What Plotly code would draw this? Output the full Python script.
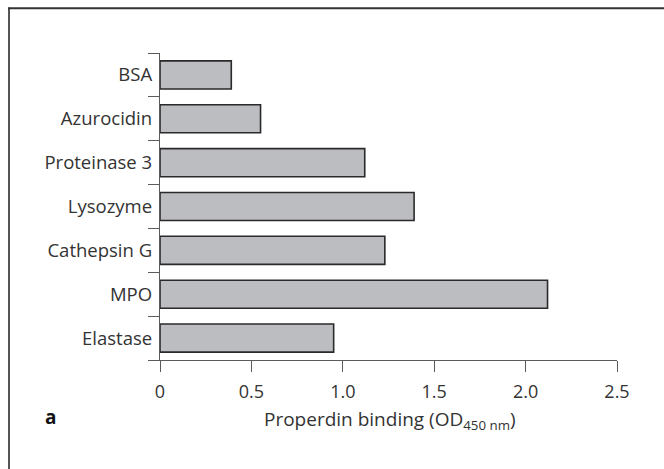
import plotly.graph_objects as go

# Data (bottom to top as drawn)
categories = ["Elastase", "MPO", "Cathepsin G", "Lysozyme", "Proteinase 3", "Azurocidin", "BSA"]
values = [0.95, 2.12, 1.23, 1.39, 1.12, 0.55, 0.39]
x_ticks = [0, 0.5, 1.0, 1.5, 2.0, 2.5]
x_tick_labels = ["0", "0.5", "1.0", "1.5", "2.0", "2.5"]

FONT = "Open Sans, Segoe UI, sans-serif"
TXT = "#333333"
AX = "#5a5a5a"

fig = go.Figure()
fig.add_trace(go.Bar(
    x=values, y=categories, orientation="h", width=0.64,
    marker=dict(color="#bcbdc1", line=dict(color="#2a2a2a", width=1.6)),
    hoverinfo="skip",
))

W, H = 664, 469
L, R, T, B = 160, 47, 53.3, 109
pw, ph = W - L - R, H - T - B

def px(x):
    return (x - L) / pw

def py(y):
    return (H - B - y) / ph

fig.update_layout(
    width=W, height=H,
    margin=dict(l=L, r=R, t=T, b=B, pad=0),
    paper_bgcolor="white", plot_bgcolor="white",
    showlegend=False,
    font=dict(family=FONT, size=18, color=TXT),
    xaxis=dict(
        range=[0, 2.5], tickvals=x_ticks, ticktext=x_tick_labels,
        showgrid=False, zeroline=False, showline=True, linecolor=AX, linewidth=1.3,
        ticks="outside", ticklen=11, tickwidth=1.3, tickcolor=AX,
        tickfont=dict(family=FONT, size=18, color=TXT),
        ticklabelstandoff=4,
        fixedrange=True,
    ),
    yaxis=dict(
        type="category", categoryorder="array", categoryarray=categories,
        range=[-0.5, 6.5],
        showgrid=False, zeroline=False, showline=True, linecolor=AX, linewidth=1.3,
        ticks="outside", tickson="boundaries", ticklen=11, tickwidth=1.3, tickcolor=AX,
        tickfont=dict(family=FONT, size=18.5, color=TXT),
        ticklabelstandoff=3,
        fixedrange=True,
    ),
    shapes=[
        dict(type="line", xref="paper", yref="paper", x0=px(9), x1=px(9), y0=py(8), y1=py(H + 5),
             line=dict(color="#555555", width=2)),
        dict(type="line", xref="paper", yref="paper", x0=px(8), x1=px(W + 5), y0=py(8.5), y1=py(8.5),
             line=dict(color="#333333", width=2)),
    ],
    annotations=[
        dict(text="Properdin binding (OD<sub>450 nm</sub>)", xref="paper", yref="paper",
             x=px(390), y=py(420), xanchor="center", yanchor="middle", showarrow=False,
             font=dict(family=FONT, size=19, color=TXT)),
        dict(text="<b>a</b>", xref="paper", yref="paper",
             x=px(50), y=py(417), xanchor="center", yanchor="middle", showarrow=False,
             font=dict(family=FONT, size=19, color="#111111")),
    ],
)

fig.write_html("out.html")
